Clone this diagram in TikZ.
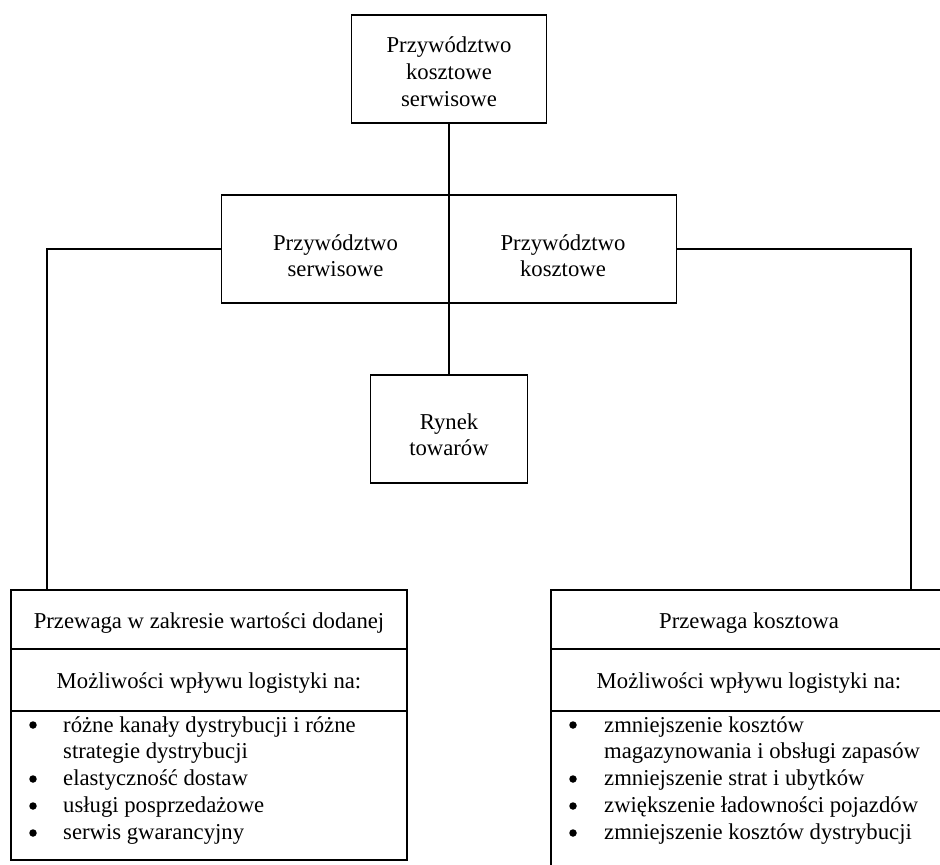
\documentclass[tikz,border=0pt]{standalone}
\usepackage{fontspec}
\setmainfont{Liberation Serif}
\begin{document}
\begin{tikzpicture}[x=1pt,y=-1pt,
  box/.style={draw, line width=1.8pt, rectangle, inner sep=0pt},
  wire/.style={line width=1.8pt},
  txt/.style={anchor=base, inner sep=0pt, font=\fontsize{22.7}{27}\selectfont},
  ltxt/.style={anchor=base west, inner sep=0pt, font=\fontsize{22.7}{27}\selectfont},
  blt/.style={circle, fill, inner sep=0pt, minimum size=7.5pt}]
\useasboundingbox (0,0) rectangle (940,865);
\clip (0,0) rectangle (940,865);
\fill[white] (0,0) rectangle (940,865);

% boxes
\node[box, minimum width=195pt, minimum height=108pt] (top) at (449,69) {};
\node[box, minimum width=455pt, minimum height=108pt] (mid) at (449,249) {};
\node[box, minimum width=157pt, minimum height=108pt] (ryn) at (449,429) {};
\node[box, minimum width=396pt, minimum height=270pt] (lbox) at (209,725) {};
\node[box, minimum width=396pt, minimum height=300pt] (rbox) at (749,740) {};

% dividers in bottom boxes
\draw[wire] ([yshift=-60pt]lbox.north west) -- ([yshift=-60pt]lbox.north east);
\draw[wire] ([yshift=-122pt]lbox.north west) -- ([yshift=-122pt]lbox.north east);
\draw[wire] ([yshift=-60pt]rbox.north west) -- ([yshift=-60pt]rbox.north east);
\draw[wire] ([yshift=-122pt]rbox.north west) -- ([yshift=-122pt]rbox.north east);

% connectors
\coordinate (lc) at (47,590);
\coordinate (rc) at (911,590);
\draw[wire] (top.south) -- (mid.north);
\draw[wire] (mid.north) -- (mid.south);
\draw[wire] (mid.south) -- (ryn.north);
\draw[wire] (mid.west) -| (lc);
\draw[wire] (mid.east) -| (rc);

% texts
\node[txt] (t1) at (449,52) {Przywództwo};
\node[txt] (t2) at (449,79) {kosztowe};
\node[txt] (t3) at (449,106) {serwisowe};

\node[txt] (m1) at (335.5,250) {Przywództwo};
\node[txt] (m2) at (335.5,276) {serwisowe};
\node[txt] (m3) at (563,250) {Przywództwo};
\node[txt] (m4) at (563,276) {kosztowe};

\node[txt] (r1) at (449,429) {Rynek};
\node[txt] (r2) at (449,455) {towarów};

\node[txt] (lh1) at (209,628) {Przewaga w zakresie wartości dodanej};
\node[txt] (lh2) at (209,688) {Możliwości wpływu logistyki na:};
\node[txt] (rh1) at (749,628) {Przewaga kosztowa};
\node[txt] (rh2) at (749,688) {Możliwości wpływu logistyki na:};

% left bullets
\node[blt] (lb1) at (33,725) {};
\node[ltxt] (ll1) at (63,732) {różne kanały dystrybucji i różne};
\node[ltxt] (ll2) at (63,758) {strategie dystrybucji};
\node[blt] (lb2) at (33,779) {};
\node[ltxt] (ll3) at (63,785) {elastyczność dostaw};
\node[blt] (lb3) at (33,806) {};
\node[ltxt] (ll4) at (63,812) {usługi posprzedażowe};
\node[blt] (lb4) at (33,833) {};
\node[ltxt] (ll5) at (63,839) {serwis gwarancyjny};

% right bullets
\node[blt] (rb1) at (573,725) {};
\node[ltxt] (rl1) at (604,732) {zmniejszenie kosztów};
\node[ltxt] (rl2) at (604,758) {magazynowania i obsługi zapasów};
\node[blt] (rb2) at (573,779) {};
\node[ltxt] (rl3) at (604,785) {zmniejszenie strat i ubytków};
\node[blt] (rb3) at (573,806) {};
\node[ltxt] (rl4) at (604,812) {zwiększenie ładowności pojazdów};
\node[blt] (rb4) at (573,833) {};
\node[ltxt] (rl5) at (604,839) {zmniejszenie kosztów dystrybucji};
\end{tikzpicture}
\end{document}
